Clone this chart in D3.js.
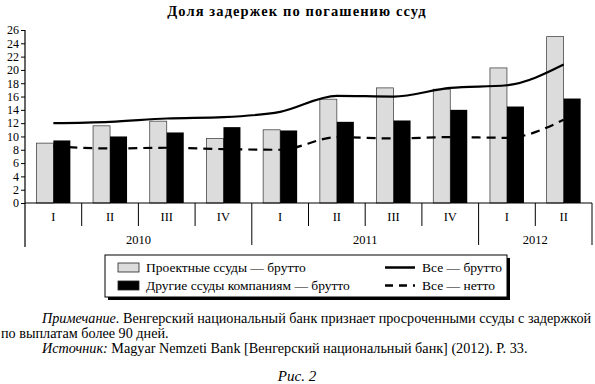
<!DOCTYPE html>
<html>
<head>
<meta charset="utf-8">
<script src="https://cdn.jsdelivr.net/npm/d3@7"></script>
<style>
  body { margin: 0; background: #fff; }
  svg, svg text { font-family: "Liberation Serif", "DejaVu Serif", serif; }
</style>
</head>
<body>
<div id="chart"></div>
<script>
const WIDTH = 595;
const HEIGHT = 384;

// --- data ---
const quarters = ["I", "II", "III", "IV", "I", "II", "III", "IV", "I", "II"];
const years = [
  { label: "2010", from: 0, to: 4 },
  { label: "2011", from: 4, to: 8 },
  { label: "2012", from: 8, to: 10 }
];
const projectGross = [9.0, 11.6, 12.3, 9.7, 11.0, 15.6, 17.3, 17.1, 20.3, 25.0];
const otherGross = [9.4, 10.0, 10.6, 11.4, 10.9, 12.2, 12.4, 14.0, 14.5, 15.7];
const allGross = [12.0, 12.2, 12.7, 12.9, 13.7, 16.1, 16.0, 17.3, 17.7, 20.8];
const allNet = [8.5, 8.2, 8.3, 8.1, 8.0, 9.9, 9.7, 9.9, 9.8, 12.5];
const yTicks = d3.range(0, 27, 2);

const margin = { left: 25, right: 3, top: 30, bottom: 181 };
const plotW = WIDTH - margin.left - margin.right;
const plotH = HEIGHT - margin.top - margin.bottom;

const svg = d3.select("#chart").append("svg")
  .attr("width", WIDTH)
  .attr("height", HEIGHT)
  .attr("font-family", "Liberation Serif, serif");

// title
svg.append("text")
  .attr("x", 297).attr("y", 16)
  .attr("text-anchor", "middle")
  .style("font-weight", "bold")
  .style("font-size", "14.5px")
  .style("letter-spacing", "1.1px")
  .text("Доля задержек по погашению ссуд");

const g = svg.append("g").attr("transform", `translate(${margin.left},${margin.top})`);

const idx = quarters.map((d, i) => i);
const x = d3.scaleBand().domain(idx).range([0, plotW]);
const y = d3.scaleLinear().domain([0, 26]).range([plotH, 0]);
const barW = 17;

// y axis
const yAxis = g.append("g")
  .call(d3.axisLeft(y).tickValues(yTicks).tickSize(4).tickPadding(2))
  .attr("font-family", null);
yAxis.select(".domain").attr("stroke", "#000").attr("stroke-width", 1.2).attr("d", `M0,0V${plotH + 44}`);
yAxis.selectAll("text")
  .style("font-size", "12px")
  .attr("fill", "#000");

// light bars
g.append("g").selectAll("rect")
  .data(projectGross)
  .join("rect")
  .attr("x", (d, i) => x(i) + x.bandwidth() / 2 - barW)
  .attr("y", d => y(d))
  .attr("width", barW)
  .attr("height", d => plotH - y(d))
  .attr("fill", "#dcdcdc")
  .attr("stroke", "#333")
  .attr("stroke-width", 0.7);

// dark bars
g.append("g").selectAll("rect")
  .data(otherGross)
  .join("rect")
  .attr("x", (d, i) => x(i) + x.bandwidth() / 2)
  .attr("y", d => y(d))
  .attr("width", barW)
  .attr("height", d => plotH - y(d))
  .attr("fill", "#000");

// lines
const line = d3.line()
  .x((d, i) => x(i) + x.bandwidth() / 2)
  .y(d => y(d))
  .curve(d3.curveMonotoneX);

g.append("path")
  .datum(allGross)
  .attr("d", line)
  .attr("fill", "none")
  .attr("stroke", "#000")
  .attr("stroke-width", 2.2);

g.append("path")
  .datum(allNet)
  .attr("d", line)
  .attr("fill", "none")
  .attr("stroke", "#000")
  .attr("stroke-width", 2.2)
  .attr("stroke-dasharray", "9,6");

// category axis
const xg = g.append("g").attr("transform", `translate(0,${plotH})`);
xg.append("line")
  .attr("x1", 0).attr("x2", plotW)
  .attr("stroke", "#000").attr("stroke-width", 1.2);

const yearEdges = years.map(d => d.to);
idx.slice(1).forEach(i => {
  const isYear = yearEdges.includes(i);
  xg.append("line")
    .attr("x1", x(i)).attr("x2", x(i))
    .attr("y1", 0).attr("y2", isYear ? 42 : 23)
    .attr("stroke", "#000").attr("stroke-width", 1);
});
xg.append("line")
  .attr("x1", plotW).attr("x2", plotW)
  .attr("y1", 0).attr("y2", 42)
  .attr("stroke", "#000").attr("stroke-width", 1);

xg.selectAll("text.q")
  .data(quarters)
  .join("text")
  .attr("class", "q")
  .attr("x", (d, i) => x(i) + x.bandwidth() / 2)
  .attr("y", 18)
  .attr("text-anchor", "middle")
  .style("font-size", "12.5px")
  .text(d => d);

xg.selectAll("text.yr")
  .data(years)
  .join("text")
  .attr("class", "yr")
  .attr("x", d => (x(d.from) + (d.to === quarters.length ? plotW : x(d.to))) / 2)
  .attr("y", 41)
  .attr("text-anchor", "middle")
  .style("font-size", "12.5px")
  .text(d => d.label);

// legend
const lg = svg.append("g").attr("transform", "translate(105,255)");
lg.append("rect").attr("x", 3).attr("y", 3).attr("width", 402).attr("height", 42).attr("fill", "#000");
lg.append("rect").attr("width", 402).attr("height", 42).attr("fill", "#fff").attr("stroke", "#000").attr("stroke-width", 1);

const legendBars = [
  { label: "Проектные ссуды — брутто", fill: "#dcdcdc" },
  { label: "Другие ссуды компаниям — брутто", fill: "#000" }
];
const legendLines = [
  { label: "Все — брутто", dash: null },
  { label: "Все — нетто", dash: "8,6" }
];
legendBars.forEach((d, i) => {
  lg.append("rect")
    .attr("x", 13).attr("y", 8 + i * 18)
    .attr("width", 21).attr("height", 9)
    .attr("fill", d.fill).attr("stroke", "#222").attr("stroke-width", 0.8);
  lg.append("text")
    .attr("x", 41).attr("y", 17 + i * 18)
    .style("font-size", "13.5px")
    .text(d.label);
});
legendLines.forEach((d, i) => {
  lg.append("line")
    .attr("x1", 280).attr("x2", 310)
    .attr("y1", 12.5 + i * 18).attr("y2", 12.5 + i * 18)
    .attr("stroke", "#000").attr("stroke-width", 2.5)
    .attr("stroke-dasharray", d.dash);
  lg.append("text")
    .attr("x", 317).attr("y", 17 + i * 18)
    .style("font-size", "13.5px")
    .text(d.label);
});

// notes
const notes = svg.append("g").style("font-size", "14.2px");
const n1 = notes.append("text").attr("x", 42).attr("y", 323);
n1.append("tspan").style("font-style", "italic").text("Примечание.");
n1.append("tspan").text(" Венгерский национальный банк признает просроченными ссуды с задержкой");
notes.append("text").attr("x", 1).attr("y", 338).text("по выплатам более 90 дней.");
const n2 = notes.append("text").attr("x", 42).attr("y", 353);
n2.append("tspan").style("font-style", "italic").text("Источник:");
n2.append("tspan").text(" Magyar Nemzeti Bank [Венгерский национальный банк] (2012). P. 33.");

svg.append("text")
  .attr("x", 297).attr("y", 381)
  .attr("text-anchor", "middle")
  .style("font-style", "italic")
  .style("font-size", "15px")
  .text("Рис. 2");
</script>
</body>
</html>
